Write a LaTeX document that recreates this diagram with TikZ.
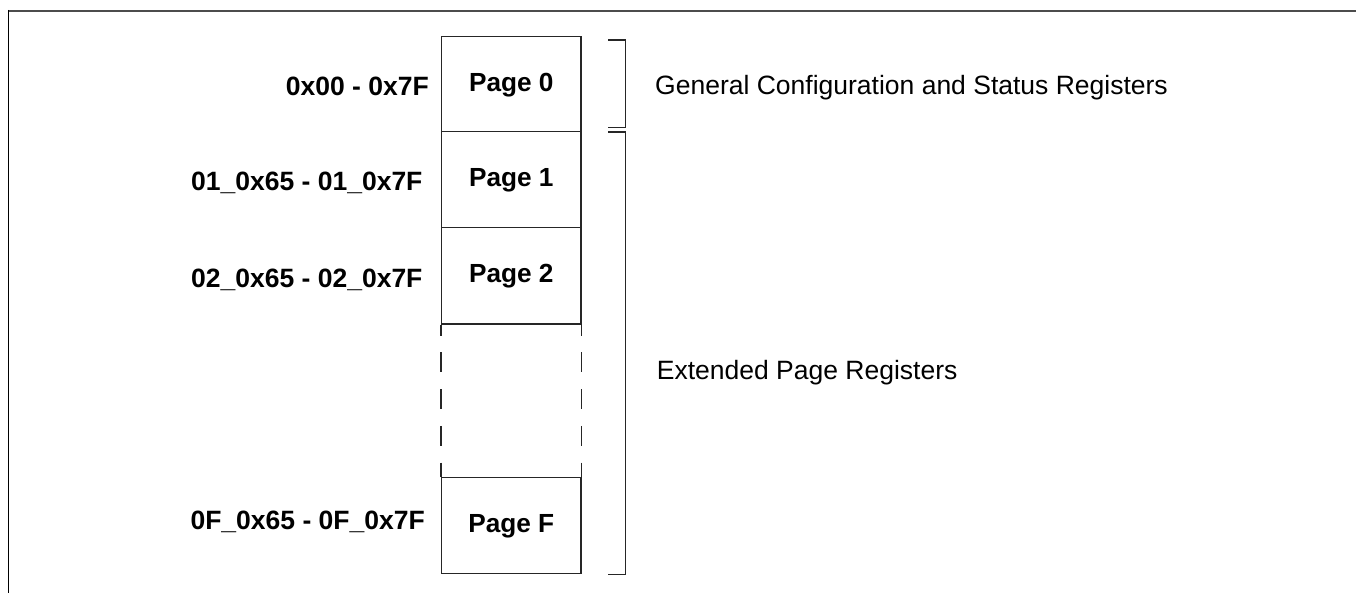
\documentclass[tikz,border=0pt]{standalone}
\usepackage{fontspec}
\setmainfont{Liberation Sans}
\begin{document}
\begin{tikzpicture}[x=1pt,y=-1pt,
  pagebox/.style={draw=black!85,line width=1.3pt,inner sep=0pt,minimum width=139.3pt,
    text height=18pt,text depth=4pt,font=\fontsize{26.2}{30}\selectfont\bfseries},
  addr/.style={anchor=base east,inner sep=0pt,font=\fontsize{26.5}{30}\selectfont\bfseries},
  desc/.style={anchor=base west,inner sep=0pt,font=\fontsize{26.5}{30}\selectfont},
  brack/.style={draw=black!85,line width=1.3pt},
  dashside/.style={draw=black!85,line width=1.3pt,dash pattern=on 20pt off 16.7pt,dash phase=9pt}]
\useasboundingbox (0,0) rectangle (1356,593);
% frame
\draw[black!70,line width=2.4pt] (1356,11) -- (9,11);
\draw[black,line width=1.4pt] (8.5,10) -- (8.5,593);
% pages
\node[pagebox,minimum height=95pt] (p0) at (511.3,84.2) {Page 0};
\node[pagebox,minimum height=96pt] (p1) at (511.3,179.7) {Page 1};
\node[pagebox,minimum height=96.3pt] (p2) at (511.3,275.9) {Page 2};
\node[pagebox,minimum height=95.6pt] (pf) at (511.3,525.5) {Page F};
% dashed continuation
\draw[dashside] (p2.south west) -- (pf.north west);
\draw[dashside] (p2.south east) -- (pf.north east);
% address labels
\node[addr] (a0) at (429,95.7) {0x00 - 0x7F};
\node[addr] (a1) at (422.7,190.7) {01\_0x65 - 01\_0x7F};
\node[addr] (a2) at (422.7,287.3) {02\_0x65 - 02\_0x7F};
\node[addr] (af) at (425,529.3) {0F\_0x65 - 0F\_0x7F};
% brackets
\coordinate (b1t) at (608,40);
\coordinate (b1b) at (608,127.3);
\coordinate (b2t) at (608,132);
\coordinate (b2b) at (608,574.5);
\draw[brack] (b1t) -- ++(17.6,0) |- (b1b);
\draw[brack] (b2t) -- ++(17.6,0) |- (b2b);
% descriptions
\node[desc] (d0) at (655,95) {General Configuration and Status Registers};
\node[desc] (d1) at (656.7,379) {Extended Page Registers};
\end{tikzpicture}
\end{document}
